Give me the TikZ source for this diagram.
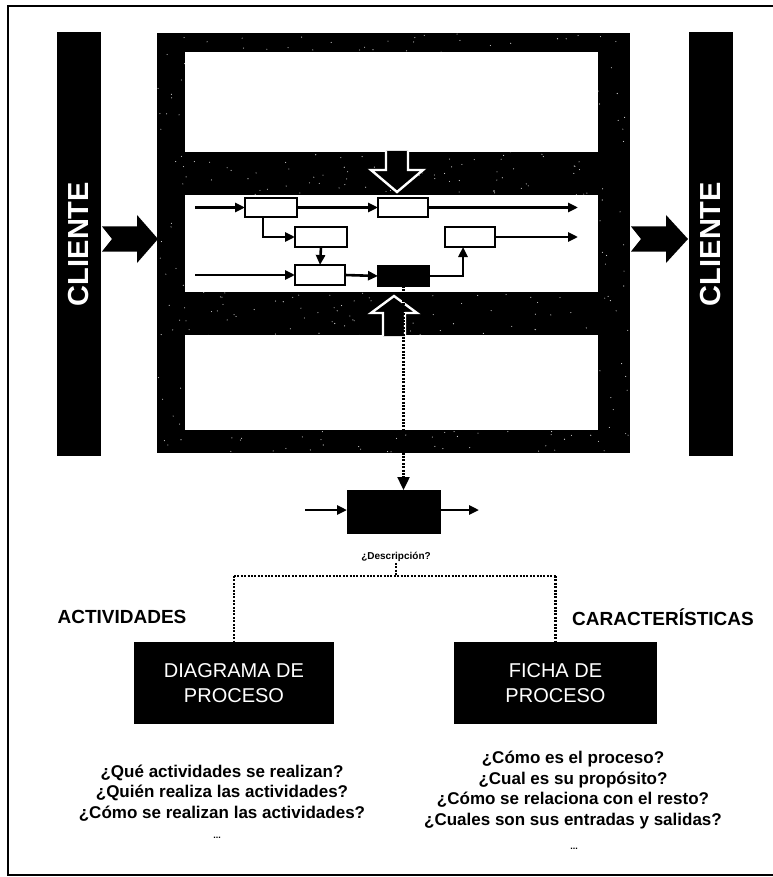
\documentclass[tikz,border=0pt]{standalone}
\usepackage{fontspec}
\setmainfont{Liberation Sans}
\usetikzlibrary{arrows.meta,calc}
\begin{document}
\begin{tikzpicture}[x=1pt,y=-1pt,
  pbox/.style={draw=black,line width=2.8pt,fill=white,inner sep=0pt,outer sep=0pt,minimum height=19pt},
  flow/.style={line width=2.6pt,-{Triangle[length=10pt,width=9pt]}},
  bigbox/.style={fill=black,draw=none,inner sep=0pt,outer sep=0pt,minimum height=82pt,text=white,align=center,font=\fontsize{20}{25}\selectfont},
  bar/.style={fill=black,draw=none,inner sep=0pt,outer sep=0pt,minimum width=44pt,minimum height=424pt},
  hollow/.style={draw=white,line width=2.4pt,line join=miter,fill=black},
  dots/.style={line width=2.4pt,dash pattern=on 2pt off 1.4pt},
  quest/.style={align=center,font=\fontsize{17}{20.5}\selectfont\bfseries,inner sep=0pt},
  chev/.style={fill=black,draw=none},
  wrect/.style={fill=white,inner sep=0pt,outer sep=0pt,minimum width=413pt}
]
\useasboundingbox (0,0) rectangle (772,877);
% outer frame
\draw[line width=1.6pt] (773,6) -- (8,6) -- (8,875) -- (773,875);

% client bars
\node[bar] (cl) at (79,244) {};
\node[bar] (cr) at (710.5,244) {};
\node[rotate=90,text=white,font=\fontsize{29}{29}\selectfont\bfseries] (tl) at (cl.center) {CLIENTE};
\node[rotate=90,text=white,font=\fontsize{29}{29}\selectfont\bfseries] (tr) at (cr.center) {CLIENTE};

% main frame
\node[fill=black,inner sep=0pt,outer sep=0pt,minimum width=473pt,minimum height=420pt] (frame) at (393.5,243) {};
\pgfmathsetseed{7}
\foreach \i in {1,...,700}{
  \pgfmathsetmacro\px{158+471*rnd}
  \pgfmathsetmacro\py{34+418*rnd}
  \fill[white!85!black] (\px,\py) circle (0.55);
}
\node[wrect,minimum height=100pt] (wtop) at (391.5,102) {};
\node[wrect,minimum height=97pt] (wmid) at (391.5,243.5) {};
\node[wrect,minimum height=95pt] (wbot) at (391.5,382.5) {};

% chevron arrows
\fill[chev] (102,226.5) -- (137,226.5) -- (137,215) -- (158,239) -- (137,263) -- (137,251.5) -- (102,251.5) -- (112,239) -- cycle;
\fill[chev] (631,226.5) -- (666,226.5) -- (666,215) -- (688,239) -- (666,263) -- (666,251.5) -- (631,251.5) -- (641,239) -- cycle;

% hollow arrows
\draw[hollow] (386,151) -- (386,170) -- (371,170) -- (397,192) -- (423,170) -- (408,170) -- (408,151);
\draw[hollow] (383,336) -- (383,313) -- (371,313) -- (394,296) -- (417,313) -- (405,313) -- (405,336);

% process boxes
\node[pbox,minimum width=52pt] (b1) at (271,207.5) {};
\node[pbox,minimum width=50pt] (b2) at (403,207.5) {};
\node[pbox,minimum width=52pt,minimum height=20pt] (b3) at (321,237) {};
\node[pbox,minimum width=50pt,minimum height=20pt] (b4) at (470,237) {};
\node[pbox,minimum width=50pt,minimum height=20pt] (b5) at (320,275) {};
\node[pbox,fill=black,minimum width=51pt,minimum height=20pt] (b6) at (403.5,276) {};

\coordinate (i1) at (195,207.5);
\coordinate (o1) at (578,207.5);
\coordinate (o2) at (578,237);
\coordinate (i3) at (195,275);

\draw[flow] (i1) -- (b1.west);
\draw[flow] (b1.east) -- (b2.west);
\draw[flow] (b2.east) -- (o1);
\draw[flow] ([xshift=-8pt]b1.south) |- (b3.west);
\draw[flow] (b3.south) -- (b5.north);
\draw[flow] (i3) -- (b5.west);
\draw[flow] (b5.east) -- (b6.west);
\draw[flow] (b6.east) -| ([xshift=-7pt]b4.south);
\draw[flow] (b4.east) -- (o2);

% small box below
\node[fill=black,inner sep=0pt,outer sep=0pt,minimum width=94pt,minimum height=44pt] (sb) at (394,512) {};
\draw[dots,-{Triangle[length=13pt,width=12pt]}] (b6.south) -- (b6.south |- sb.north);
\coordinate (si) at (305,510);
\coordinate (so) at (479,510);
\draw[flow] (si) -- (si -| sb.west);
\draw[flow] (so -| sb.east) -- (so);

\node[font=\fontsize{10}{10}\selectfont\bfseries,inner sep=1pt] (desc) at (396,557) {¿Descripción?};

% big boxes
\node[bigbox,minimum width=200pt] (dbox) at (234,683) {DIAGRAMA DE\\PROCESO};
\node[bigbox,minimum width=203pt] (fbox) at (555.5,683) {FICHA DE\\PROCESO};

% dotted tree
\coordinate (split) at (396,576);
\draw[dots] (desc.south) -- (split);
\draw[dots] (split -| dbox.north) -- (split -| fbox.north);
\draw[dots] (split -| dbox.north) -- (dbox.north);
\draw[dots] (split -| fbox.north) -- (fbox.north);

% labels
\node[font=\fontsize{19}{19}\selectfont\bfseries] (act) at (122,617) {ACTIVIDADES};
\node[font=\fontsize{19}{19}\selectfont\bfseries] (car) at (663,617) {CARACTERÍSTICAS};

% questions
\node[quest] (ql) at (222,793) {¿Qué actividades se realizan?\\¿Quién realiza las actividades?\\¿Cómo se realizan las actividades?};
\node[quest] (qr) at (573,790) {¿Cómo es el proceso?\\¿Cual es su propósito?\\¿Cómo se relaciona con el resto?\\¿Cuales son sus entradas y salidas?};
\node[font=\fontsize{9}{9}\selectfont\bfseries] (el) at (217,838) {...};
\node[font=\fontsize{9}{9}\selectfont\bfseries] (er) at (574,849) {...};
\end{tikzpicture}
\end{document}
